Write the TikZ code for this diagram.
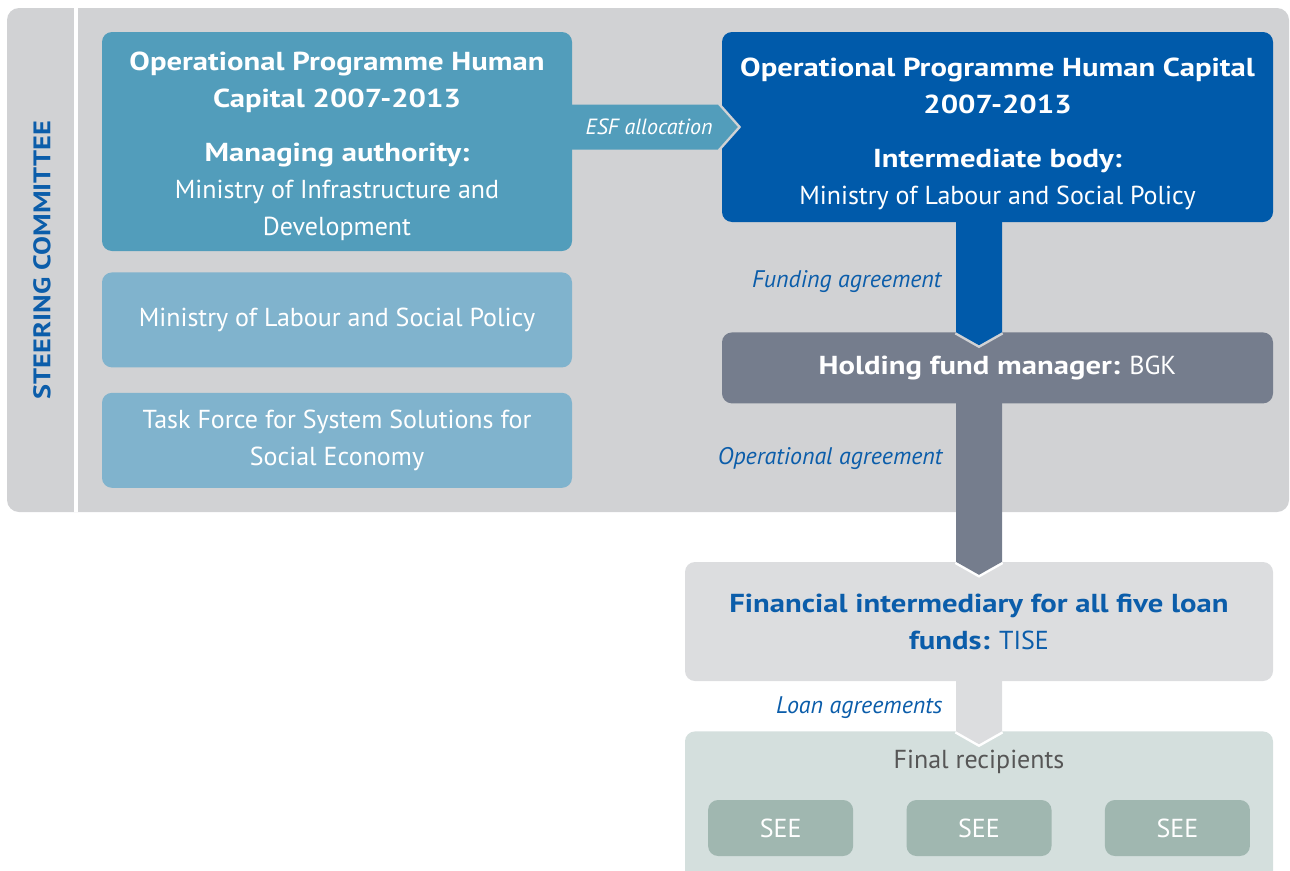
\documentclass[tikz,border=0pt]{standalone}
\usepackage{fontspec}
\setmainfont{PT Sans}[BoldFeatures={FakeStretch=1.18}]
\usetikzlibrary{calc,positioning}

\definecolor{panelgrey}{HTML}{D1D2D4}
\definecolor{mablue}{HTML}{529DBB}
\definecolor{paleblue}{HTML}{80B3CD}
\definecolor{ibblue}{HTML}{005AAA}
\definecolor{slate}{HTML}{757D8D}
\definecolor{lightgrey}{HTML}{DCDDDF}
\definecolor{sage}{HTML}{D4DFDD}
\definecolor{seegreen}{HTML}{A0B7B0}
\definecolor{textblue}{HTML}{0B5DAA}
\definecolor{darktext}{HTML}{565656}

\begin{document}
\begin{tikzpicture}[
    x=1pt, y=-1pt,
    box/.style={
        rounded corners=10pt,
        inner sep=0pt,
        align=center,
        text=white,
        font=\fontsize{26}{37}\selectfont
    },
    seebox/.style={box, fill=seegreen, minimum width=145pt, minimum height=56pt},
    flowlabel/.style={font=\fontsize{24}{28}\selectfont\itshape, text=textblue},
    tipline/.style={line width=5pt, line join=miter}
]
    \path[use as bounding box, clip] (0,0) rectangle (1290,870);

    % steering committee panel
    \fill[panelgrey, rounded corners=12pt] (7,8) rectangle (1289,512);
    \draw[white, line width=4pt] (76,8) -- (76,512);
    \node[rotate=90, font=\fontsize{24}{28}\selectfont\bfseries, text=textblue] (steering) at (42,260) {STEERING COMMITTEE};

    % left column
    \node[box, fill=mablue, minimum width=470pt, minimum height=219pt] (ma) at (337,141.5) {};
    \node[box] (ma-text) at ($(ma.center)+(0,5)$)
        {\textbf{Operational Programme Human}\\\textbf{Capital 2007-2013}\\[17pt]\textbf{Managing authority:}\\Ministry of Infrastructure and\\Development};
    \node[box, fill=paleblue, minimum width=470pt, minimum height=95pt, below=21pt of ma] (mlsp)
        {Ministry of Labour and Social Policy};
    \node[box, fill=paleblue, minimum width=470pt, minimum height=95pt, below=25pt of mlsp] (task-force)
        {Task Force for System Solutions for\\Social Economy};

    % right column
    \node[box, fill=ibblue, minimum width=551pt, minimum height=190pt] (ib) at (997.5,127) {};
    \node[box] (ib-text) at ($(ib.center)+(0,7)$)
        {\textbf{Operational Programme Human Capital}\\\textbf{2007-2013}\\[17pt]\textbf{Intermediate body:}\\Ministry of Labour and Social Policy};
    \node[box, fill=slate, minimum width=551pt, minimum height=71pt, below=110pt of ib] (hfm)
        {\textbf{Holding fund manager:} BGK};
    \node[box, fill=lightgrey, text=textblue, minimum width=588pt, minimum height=119pt] (fi) at (979,621.5)
        {\textbf{Financial intermediary for all five loan}\\\textbf{funds:} TISE};
    \node[box, fill=sage, minimum width=588pt, minimum height=150pt, below=50pt of fi] (fr) {};
    \node[box, text=darktext] (fr-title) at (979,762) {Final recipients};
    \node[seebox] (see-b) at (979,828) {SEE};
    \node[seebox, left=53pt of see-b] (see-a) {SEE};
    \node[seebox, right=53pt of see-b] (see-c) {SEE};

    % ESF allocation
    \draw[panelgrey, tipline] ($(ib.west)+(-4,-22.5)$) -- ($(ib.west)+(16,0)$) -- ($(ib.west)+(-4,22.5)$);
    \fill[mablue] ($(ma.east |- ib.west)+(-1,-22.5)$) -- ($(ib.west)+(-4,-22.5)$) -- ($(ib.west)+(16,0)$)
        -- ($(ib.west)+(-4,22.5)$) -- ($(ma.east |- ib.west)+(-1,22.5)$) -- cycle;
    \node[flowlabel, font=\fontsize{22}{26}\selectfont\itshape, text=white] (esf)
        at ($(ma.east |- ib.west)!0.5!(ib.west)+(2,0)$) {ESF allocation};

    % funding agreement
    \draw[panelgrey, tipline] ($(hfm.north -| fi.north)+(-23,0)$) -- ++(23,13) -- ++(23,-13);
    \fill[ibblue] ($(ib.south -| fi.north)+(-23,-1)$) -- ($(hfm.north -| fi.north)+(-23,0)$) -- ++(23,13)
        -- ++(23,-13) -- ($(ib.south -| fi.north)+(23,-1)$) -- cycle;
    \node[flowlabel, anchor=east] (funding) at ($(hfm.north -| fi.north)+(-34,-51)$) {Funding agreement};

    % operational agreement
    \draw[white, tipline] ($(fi.north)+(-23,0)$) -- ++(23,13) -- ++(23,-13);
    \fill[slate] ($(hfm.south -| fi.north)+(-23,-1)$) -- ($(fi.north)+(-23,0)$) -- ++(23,13)
        -- ++(23,-13) -- ($(hfm.south -| fi.north)+(23,-1)$) -- cycle;
    \node[flowlabel, anchor=east] (operational) at ($(fi.north)+(-33,-103)$) {Operational agreement};

    % loan agreements
    \draw[white, tipline] ($(fr.north)+(-23,0)$) -- ++(23,13) -- ++(23,-13);
    \fill[lightgrey] ($(fi.south)+(-23,-1)$) -- ($(fr.north)+(-23,0)$) -- ++(23,13)
        -- ++(23,-13) -- ($(fi.south)+(23,-1)$) -- cycle;
    \node[flowlabel, anchor=east] (loan) at ($(fr.north)+(-33,-24)$) {Loan agreements};
\end{tikzpicture}
\end{document}
